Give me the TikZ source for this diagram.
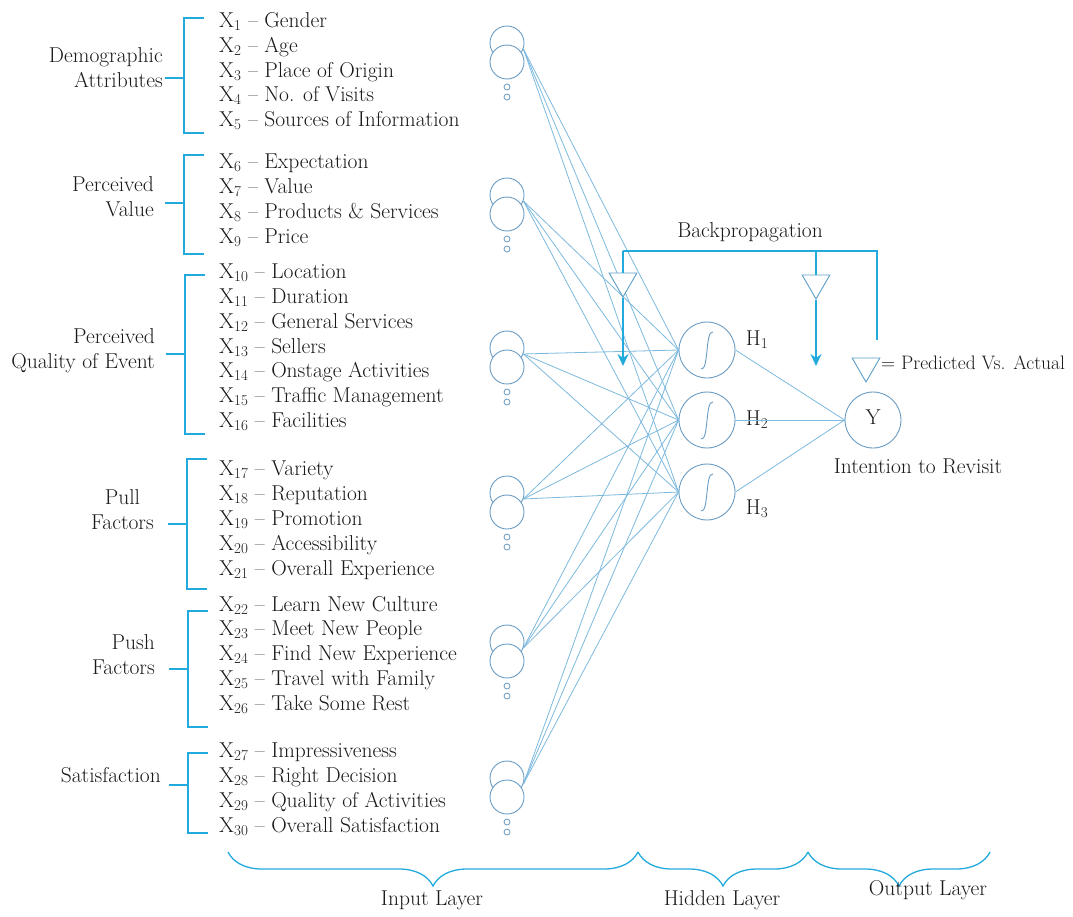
\documentclass[tikz,border=0pt]{standalone}
\usepackage{tikz}
\usetikzlibrary{shapes.geometric,arrows.meta,decorations.pathreplacing,calc}

\definecolor{linkblue}{RGB}{125,185,222}
\definecolor{ringblue}{RGB}{105,155,195}
\definecolor{brktcyan}{RGB}{35,170,220}
\definecolor{inktext}{RGB}{25,25,25}

\tikzset{
  every node/.style={font=\fontsize{21.5}{25}\selectfont, text=inktext},
  item/.style={anchor=base west, inner sep=0pt},
  grplab/.style={anchor=east, align=right, inner sep=0pt},
  incirc/.style={circle, draw=ringblue, line width=0.9pt, minimum size=34pt, inner sep=0pt},
  dotcirc/.style={circle, draw=ringblue, line width=0.8pt, minimum size=6pt, inner sep=0pt},
  hidcirc/.style={circle, draw=ringblue, line width=0.9pt, minimum size=56pt, inner sep=0pt},
  tri/.style={regular polygon, regular polygon sides=3, shape border rotate=180,
    draw=ringblue!80!brktcyan, fill=white, line width=0.9pt, minimum size=32pt, inner sep=0pt},
  link/.style={draw=linkblue, line width=0.8pt},
  sigline/.style={draw=ringblue, line width=0.9pt},
  brkt/.style={draw=brktcyan, line width=1.3pt},
  bpline/.style={draw=brktcyan, line width=1.3pt},
  bparrow/.style={draw=brktcyan, line width=2.4pt},
  layerbrace/.style={draw=brktcyan, line width=1.3pt, decorate,
    decoration={brace, mirror, amplitude=34pt}}
}

\begin{document}
\begin{tikzpicture}[x=1pt,y=-1pt]
\useasboundingbox (0,0) rectangle (1073,916);

% input variables
\foreach \n/\y/\t in {1/20/Gender, 2/45/Age, 3/70/Place of Origin, 4/94/No. of Visits,
  5/119/Sources of Information, 6/161/Expectation, 7/186/Value, 8/211/Products \& Services,
  9/236/Price, 10/271/Location, 11/296/Duration, 12/321/General Services, 13/346/Sellers,
  14/370/Onstage Activities, 15/395/Traffic Management, 16/420/Facilities, 17/468/Variety,
  18/493/Reputation, 19/518/Promotion, 20/543/Accessibility, 21/568/Overall Experience,
  22/604/Learn New Culture, 23/628/Meet New People, 24/653/Find New Experience,
  25/678/Travel with Family, 26/703/Take Some Rest, 27/750/Impressiveness,
  28/775/Right Decision, 29/800/Quality of Activities, 30/825/Overall Satisfaction}
  \node[item] (x\n) at (219,\y+7) {X\textsubscript{\n} -- \t};

% brackets
\foreach \tp/\bt/\md/\vx in {18/133/78/184, 155/254/203/184, 275/434/354/185,
  459/589/524/187, 611/727/669/188, 753/833/785/188}
  \draw[brkt] (\vx+20,\tp) -- (\vx,\tp) -- (\vx,\bt) -- (\vx+20,\bt)
    (\vx,\md) -- (\vx-19,\md);

% group labels
\node[grplab] (grp1) at (163,68) {Demographic\\Attributes};
\node[grplab] (grp2) at (154,197) {Perceived\\Value};
\node[grplab] (grp3) at (155,351) {Perceived\\Quality of Event};
\node[grplab, align=center] (grp4) at (154,510) {Pull\\Factors};
\node[grplab] (grp5) at (155,655) {Push\\Factors};
\node[grplab] (grp6) at (161,775) {Satisfaction};

% input neurons
\foreach \g/\y in {1/43, 2/195, 3/348, 4/493, 5/642, 6/778} {
  \node[incirc] (in\g-a) at (507,\y) {};
  \node[incirc, fill=white] (in\g-b) at (507,\y+19) {};
  \node[dotcirc] (in\g-c) at (507,\y+44) {};
  \node[dotcirc] (in\g-d) at (507,\y+54) {};
}

% hidden neurons
\foreach \h/\y in {1/350, 2/420, 3/492} {
  \node[hidcirc] (h\h) at (707,\y) {};
  \draw[sigline] ($(h\h)+(-6,19)$) .. controls ($(h\h)+(2,21)$) and ($(h\h)+(-2,-20)$) .. ($(h\h)+(6,-18)$);
}
\node (h1lab) at (757,340) {H\textsubscript{1}};
\node (h2lab) at (757,420) {H\textsubscript{2}};
\node (h3lab) at (757,509) {H\textsubscript{3}};

% output neuron
\node[hidcirc] (y) at (873,420) {\raisebox{6pt}{Y}};
\node (ylab) at (918,466) {Intention to Revisit};

% connections
\foreach \g in {1,...,6}
  \foreach \h in {1,2,3}
    \draw[link] (in\g-a.-20) -- (h\h.west);
\foreach \h in {1,2,3}
  \draw[link] (h\h.east) -- (y.west);

% backpropagation
\coordinate (bpfoot) at (877,340);
\coordinate (bpknee) at (877,251);
\coordinate (bpsplit) at (816,251);
\coordinate (bpleft) at (623,251);
\coordinate (ar1) at (623,366);
\coordinate (ar2) at (816,366);
\node[tri] (d1) at (623,281) {};
\node[tri] (d2) at (816,283) {};
\draw[bpline] (bpfoot) -- (bpknee) -- (bpleft);
\draw[bparrow] (bpleft) -- (d1.north);
\draw[bparrow, -{Stealth[length=12pt,width=11pt]}] (d1.south) -- (ar1);
\draw[bparrow] (bpsplit) -- (d2.north);
\draw[bparrow, -{Stealth[length=12pt,width=11pt]}] (d2.south) -- (ar2);
\node (bplab) at (750,232) {Backpropagation};

% legend
\node[tri] (leg) at (866,366) {};
\node[anchor=west, inner sep=0pt, font=\fontsize{19.5}{25}\selectfont] (legtxt) at (881,363) {= Predicted Vs. Actual};

% layer braces
\coordinate (b0) at (228,852);
\coordinate (b1) at (638,852);
\coordinate (b2) at (808,852);
\coordinate (b3) at (990,852);
\draw[layerbrace] (b0) -- (b1);
\draw[layerbrace] (b1) -- (b2);
\draw[layerbrace] (b2) -- (b3);
\node (inlab) at (432,900) {Input Layer};
\node (hidlab) at (722,900) {Hidden Layer};
\node (outlab) at (928,890) {Output Layer};
\end{tikzpicture}
\end{document}
